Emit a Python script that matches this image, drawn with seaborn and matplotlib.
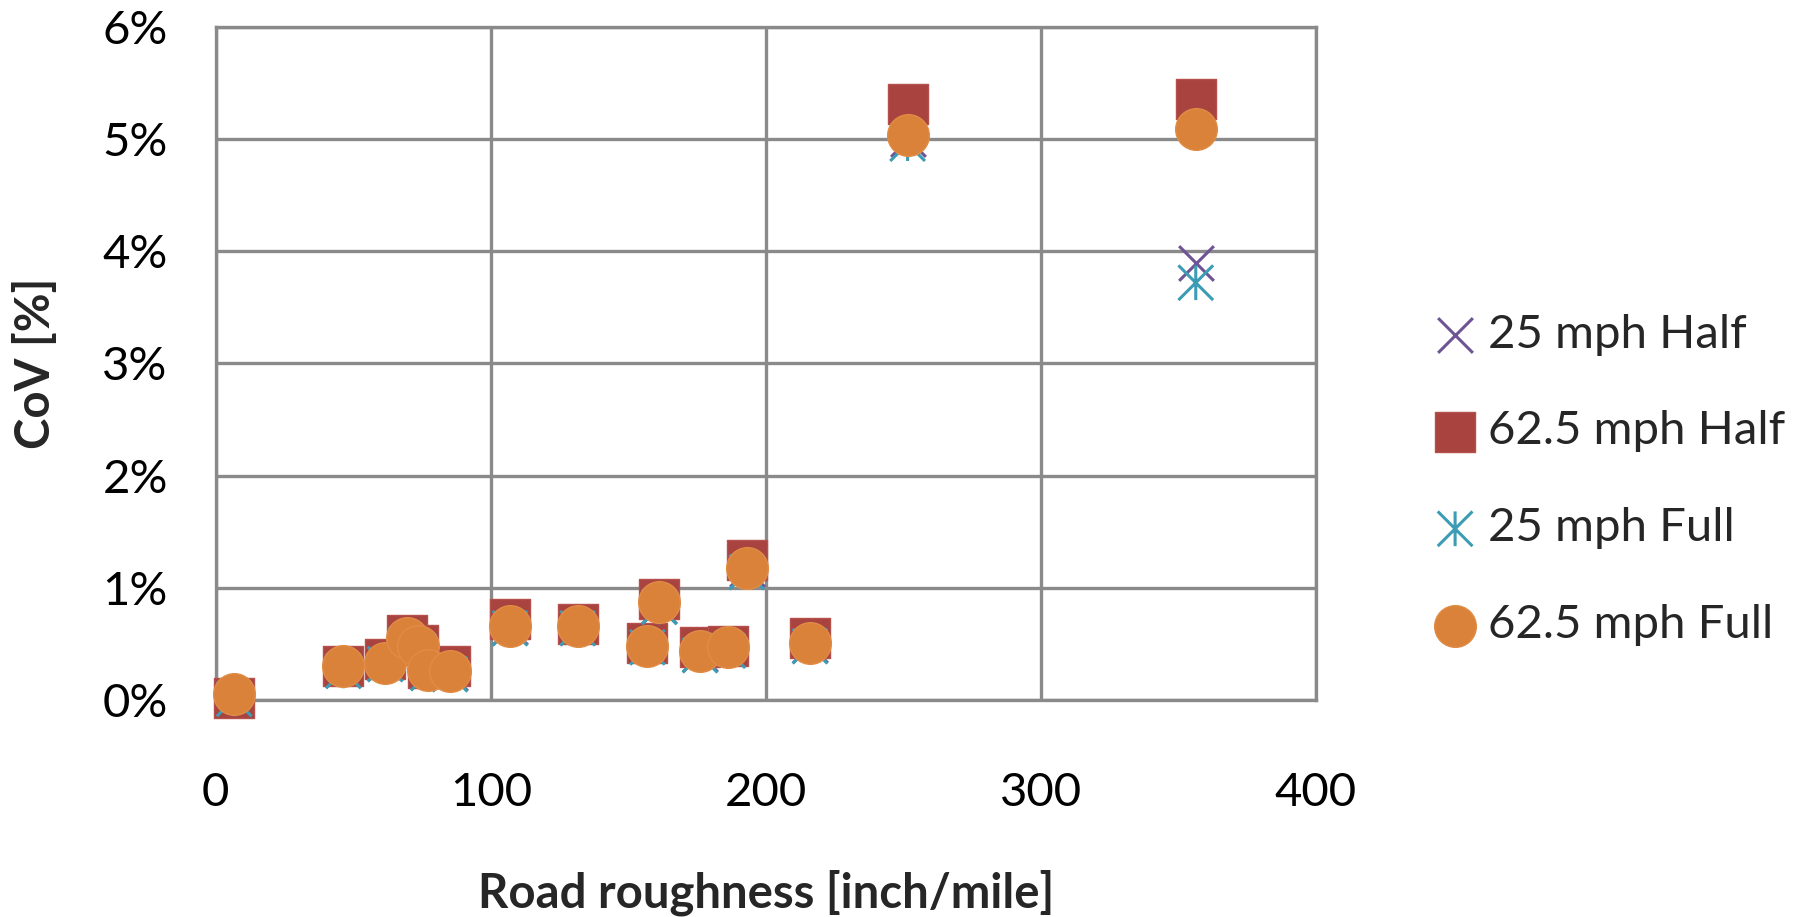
import numpy as np
import pandas as pd
import matplotlib
matplotlib.use("Agg")
import matplotlib.pyplot as plt
import seaborn as sns
from matplotlib.path import Path
from matplotlib.markers import MarkerStyle
from matplotlib.ticker import FuncFormatter

# ---------------- data ----------------
roughness = [6.7, 46.4, 61.6, 69.4, 73.7, 77.3, 85.2, 107.0, 131.6, 157.0,
             161.3, 176.1, 186.2, 193.1, 216.1, 251.6, 356.4]
cov_25_half = [0.02, 0.27, 0.33, 0.52, 0.45, 0.25, 0.24, 0.65, 0.65, 0.48,
               0.84, 0.41, 0.50, 1.17, 0.49, 5.00, 3.90]
cov_625_half = [0.02, 0.30, 0.37, 0.58, 0.49, 0.29, 0.30, 0.72, 0.68, 0.51,
                0.90, 0.47, 0.48, 1.25, 0.55, 5.31, 5.36]
cov_25_full = [0.01, 0.26, 0.32, 0.50, 0.44, 0.24, 0.23, 0.64, 0.64, 0.47,
               0.83, 0.40, 0.44, 1.14, 0.48, 4.96, 3.72]
cov_625_full = [0.05, 0.30, 0.33, 0.55, 0.48, 0.27, 0.26, 0.66, 0.66, 0.48,
                0.87, 0.44, 0.475, 1.18, 0.51, 5.04, 5.09]

series_names = ["25 mph Half", "62.5 mph Half", "25 mph Full", "62.5 mph Full"]
x_ticks = [0, 100, 200, 300, 400]
y_ticks = [0, 1, 2, 3, 4, 5, 6]
x_label = "Road roughness [inch/mile]"
y_label = "CoV [%]"

# ---------------- style ----------------
sns.set_style("white")
plt.rcParams["font.family"] = ["Lato", "DejaVu Sans"]

GRID = "#8a8a8a"
purple = "#6E5494"
red = "#A84340"
cyan = "#3D9CB5"
orange = "#DA823A"

fig = plt.figure(figsize=(18.04, 9.17), dpi=100)
ax = fig.add_axes([0.1196, 0.2366, 0.6097, 0.734])

# asterisk marker: X with vertical stroke
ast_path = Path(
    [(-0.5, -0.5), (0.5, 0.5), (-0.5, 0.5), (0.5, -0.5), (0.0, -0.5), (0.0, 0.5)],
    [Path.MOVETO, Path.LINETO, Path.MOVETO, Path.LINETO, Path.MOVETO, Path.LINETO],
)
ast_marker = MarkerStyle(ast_path, fillstyle="none")

df = pd.DataFrame({
    "x": roughness * 4,
    "y": cov_25_half + cov_625_half + cov_25_full + cov_625_full,
    "series": sum([[n] * len(roughness) for n in series_names], []),
})

specs = {
    "25 mph Half": dict(marker="x", s=25 ** 2, color=purple, linewidth=2.2),
    "62.5 mph Half": dict(marker="s", s=29 ** 2, color=red, edgecolor="#B5504C", linewidth=1),
    "25 mph Full": dict(marker=ast_marker, s=25 ** 2, color=cyan, linewidth=2.2),
    "62.5 mph Full": dict(marker="o", s=30 ** 2, color=orange, edgecolor="#E08C45", linewidth=1),
}

for name in series_names:
    sub = df[df["series"] == name]
    sns.scatterplot(data=sub, x="x", y="y", ax=ax, label=name, zorder=3,
                    clip_on=False, **specs[name])

ax.set_xlim(0, 400)
ax.set_ylim(0, 6)
ax.set_xticks(x_ticks)
ax.set_yticks(y_ticks)
ax.yaxis.set_major_formatter(FuncFormatter(lambda v, p: f"{v:.0f}%"))
ax.grid(True, color=GRID, linewidth=2.4, zorder=0)
ax.set_axisbelow(True)
for sp in ax.spines.values():
    sp.set_color(GRID)
    sp.set_linewidth(2.4)
    sp.set_visible(True)

ax.tick_params(axis="both", which="major", direction="out", length=11.5,
               width=2.4, color=GRID, labelsize=34, labelcolor="black")
ax.tick_params(axis="y", pad=23)
ax.tick_params(axis="x", pad=40)

ax.set_xlabel(x_label, fontsize=34, fontweight="bold")
ax.set_ylabel(y_label, fontsize=34, fontweight="bold")
ax.xaxis.set_label_coords(0.5, -0.252)
ax.yaxis.set_label_coords(-0.143, 0.5)

leg = ax.legend(loc="upper left", bbox_to_anchor=(1431.5 / 1804, 0.658),
                bbox_transform=fig.transFigure, frameon=False, fontsize=34,
                handlelength=1.0, handletextpad=0.2, labelspacing=1.16,
                borderpad=0, borderaxespad=0)

fig.savefig("out.png", dpi=100)
